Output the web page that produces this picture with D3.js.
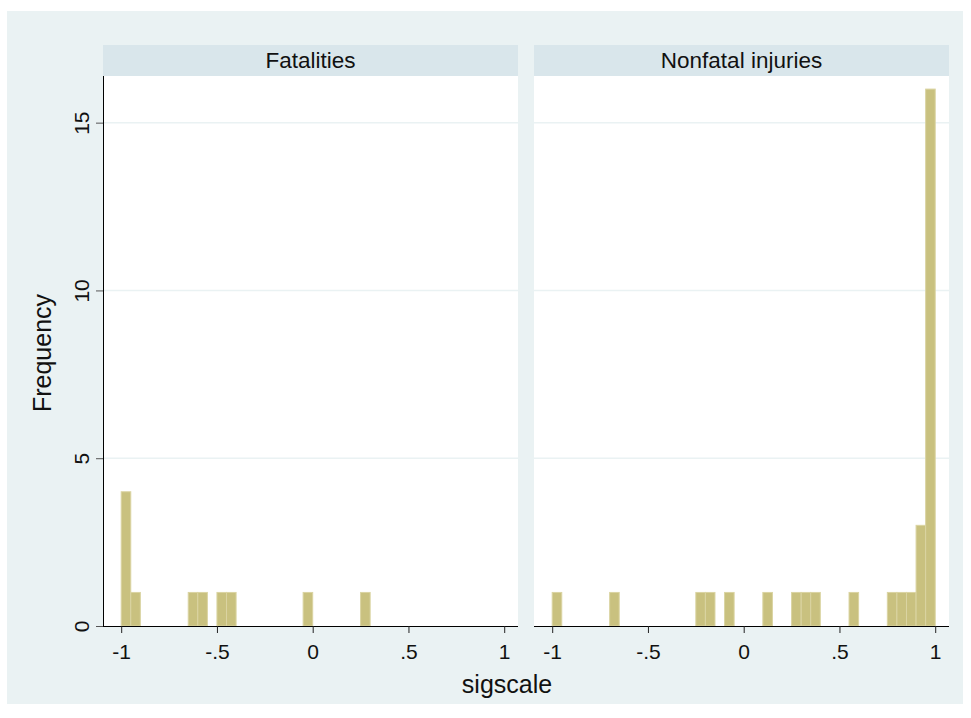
<!DOCTYPE html>
<html>
<head>
<meta charset="utf-8">
<script src="https://cdn.jsdelivr.net/npm/d3@7"></script>
<style>
  html, body { margin: 0; padding: 0; background: #ffffff; }
  svg { display: block; font-family: "Liberation Sans", Arial, Helvetica, sans-serif; }
</style>
</head>
<body>
<svg id="chart" width="971" height="718"></svg>
<script>
// ---- data ----
const binWidth = 0.05;
const panels = ["Fatalities", "Nonfatal injuries"];
const fatalBinStart = [-1, -0.95, -0.65, -0.6, -0.5, -0.45, -0.05, 0.25];
const fatalFreq     = [4, 1, 1, 1, 1, 1, 1, 1];
const nonfatalBinStart = [-1, -0.7, -0.25, -0.2, -0.1, 0.1, 0.25, 0.3, 0.35, 0.55, 0.75, 0.8, 0.85, 0.9, 0.95];
const nonfatalFreq     = [1, 1, 1, 1, 1, 1, 1, 1, 1, 1, 1, 1, 1, 3, 16];
const xTicks = [-1, -0.5, 0, 0.5, 1];
const xTickLabels = ["-1", "-.5", "0", ".5", "1"];
const yTicks = [0, 5, 10, 15];
const yTickLabels = ["0", "5", "10", "15"];
const xTitle = "sigscale";
const yTitle = "Frequency";

// ---- layout ----
const svg = d3.select("#chart");
const outerBg = "#eaf2f3";
const stripBg = "#d9e6eb";
const barFill = "#c9c17f";
const barStroke = "#dad4a2";

svg.append("rect").attr("x", 7).attr("y", 11).attr("width", 956).attr("height", 693).attr("fill", outerBg);

const plotTop = 76, plotBottom = 626, stripTop = 45;
const panelX = [103, 534];
const panelW = 415;

const y = d3.scaleLinear().domain([0, 16.39]).range([plotBottom, plotTop]);

const seriesStart = [fatalBinStart, nonfatalBinStart];
const seriesFreq = [fatalFreq, nonfatalFreq];

panels.forEach((title, i) => {
  const x0 = panelX[i];
  const x = d3.scaleLinear().domain([-1.095, 1.072]).range([x0, x0 + panelW]);
  const g = svg.append("g");

  // strip
  g.append("rect").attr("x", x0).attr("y", stripTop).attr("width", panelW).attr("height", plotTop - stripTop).attr("fill", stripBg);
  g.append("text").attr("x", x0 + panelW / 2).attr("y", 68).attr("text-anchor", "middle")
    .attr("font-size", 22.5).attr("fill", "#111").text(title);

  // plot area
  g.append("rect").attr("x", x0).attr("y", plotTop).attr("width", panelW).attr("height", plotBottom - plotTop).attr("fill", "#ffffff");

  // gridlines
  g.selectAll(".grid").data(yTicks.filter(d => d > 0)).enter().append("line")
    .attr("x1", x0).attr("x2", x0 + panelW)
    .attr("y1", d => y(d)).attr("y2", d => y(d))
    .attr("stroke", "#eaf2f3").attr("stroke-width", 1.5);

  // bars
  const data = seriesStart[i].map((s, k) => ({ s, f: seriesFreq[i][k] }));
  g.selectAll(".bar").data(data).enter().append("rect")
    .attr("x", d => x(d.s))
    .attr("width", d => x(d.s + binWidth) - x(d.s))
    .attr("y", d => y(d.f))
    .attr("height", d => y(0) - y(d.f))
    .attr("fill", barFill).attr("stroke", barStroke).attr("stroke-width", 1);

  // x axis
  const xAxis = d3.axisBottom(x).tickValues(xTicks).tickFormat((d, k) => xTickLabels[k]).tickSize(7).tickPadding(11);
  const ax = g.append("g").attr("transform", `translate(0,${plotBottom})`).call(xAxis);
  ax.select(".domain").attr("stroke", "#000").attr("d", `M${x0},0.5H${x0 + panelW}`);
  ax.selectAll(".tick line").attr("stroke", "#222");
  ax.selectAll(".tick text").attr("font-size", 21).attr("fill", "#111").attr("font-family", "Liberation Sans, Arial, sans-serif");

  if (i === 0) {
    const yAxis = d3.axisLeft(y).tickValues(yTicks).tickFormat((d, k) => yTickLabels[k]).tickSize(7).tickPadding(4);
    const ay = g.append("g").attr("transform", `translate(${x0},0)`).call(yAxis);
    ay.select(".domain").attr("stroke", "#000").attr("d", `M0.5,${plotTop}V${plotBottom}`);
    ay.selectAll(".tick line").attr("stroke", "#555");
    ay.selectAll(".tick text")
      .attr("font-size", 21).attr("fill", "#111").attr("font-family", "Liberation Sans, Arial, sans-serif")
      .attr("text-anchor", "middle").attr("dy", null)
      .attr("transform", "translate(-14,0) rotate(-90)")
      .attr("x", 0).attr("y", 0);
  }
});

// axis titles
svg.append("text").attr("x", 507).attr("y", 693).attr("text-anchor", "middle")
  .attr("font-size", 25).attr("fill", "#111").text(xTitle);
svg.append("text").attr("transform", "translate(51,353) rotate(-90)").attr("text-anchor", "middle")
  .attr("font-size", 25).attr("fill", "#111").text(yTitle);
</script>
</body>
</html>
